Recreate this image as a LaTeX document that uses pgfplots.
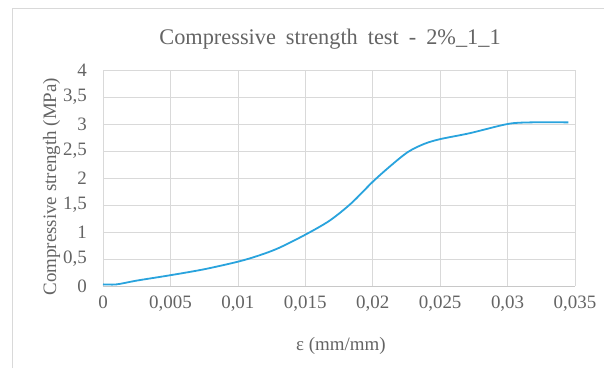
\documentclass[border=0pt]{standalone}
\usepackage{pgfplots}
\pgfplotsset{compat=1.18}
\usepackage{fontspec}
\setmainfont{Liberation Serif}
\definecolor{txt}{RGB}{100,100,100}
\definecolor{gridc}{RGB}{217,217,217}
\definecolor{axc}{RGB}{200,200,200}
\definecolor{linec}{RGB}{41,163,221}
\definecolor{brd}{RGB}{217,217,217}
\newcommand{\wsp}{\hspace{10bp}}
\begin{document}
\begin{tikzpicture}[x=1bp,y=1bp]
\path[use as bounding box] (0,0) rectangle (604,368);
\draw[brd, line width=0.8bp] (12,0) -- (12,360) -- (604,360);
\begin{axis}[
  at={(103bp,82bp)}, anchor=south west,
  scale only axis, width=472bp, height=216bp,
  xmin=0, xmax=0.035, ymin=0, ymax=4,
  scaled ticks=false,
  /pgf/number format/assume math mode=true,
  xtick={0,0.005,0.01,0.015,0.02,0.025,0.03,0.035},
  xticklabels={0,{0,005},{0,01},{0,015},{0,02},{0,025},{0,03},{0,035}},
  ytick={0,0.5,1,1.5,2,2.5,3,3.5,4},
  yticklabels={0,{0,5},1,{1,5},2,{2,5},3,{3,5},4},
  grid=major, major grid style={gridc, line width=0.6bp},
  axis line style={draw=none},
  major tick length=0pt,
  tick label style={font=\fontsize{19}{21}\selectfont, text=txt, inner sep=0pt},
  xticklabel style={anchor=north, yshift=-10bp},
  yticklabel style={anchor=east, xshift=-16bp},
  title={Compressive\wsp strength\wsp test\wsp -\wsp 2\%\_1\_1},
  title style={font=\fontsize{22.4}{26}\selectfont, text=txt,
    at={(axis description cs:0.481,1)}, anchor=base, yshift=20bp, inner sep=0pt},
  xlabel={ε (mm/mm)},
  ylabel={Compressive strength (MPa)},
  label style={font=\fontsize{19}{22}\selectfont, text=txt, inner sep=0pt},
  xlabel style={at={(axis description cs:0.504,0)}, anchor=base, yshift=-64bp},
  ylabel style={at={(axis description cs:0,0.46)}, anchor=base, yshift=47bp},
  clip=false,
]
\addplot[linec, line width=1.8bp, smooth, tension=0.5] coordinates {
(0,0.03) (0.001,0.03) (0.0025,0.10) (0.005,0.20) (0.0075,0.31) (0.01,0.45)
(0.0115,0.56) (0.013,0.70) (0.015,0.95) (0.0168,1.21) (0.0184,1.53)
(0.02,1.93) (0.0213,2.22) (0.0226,2.48) (0.0238,2.63)
(0.025,2.72) (0.0272,2.83) (0.03,3.00) (0.0317,3.03) (0.0345,3.03)
};
\draw[axc, line width=0.8bp] (axis cs:0,0) -- (axis cs:0.035,0);
\end{axis}
\end{tikzpicture}
\end{document}
